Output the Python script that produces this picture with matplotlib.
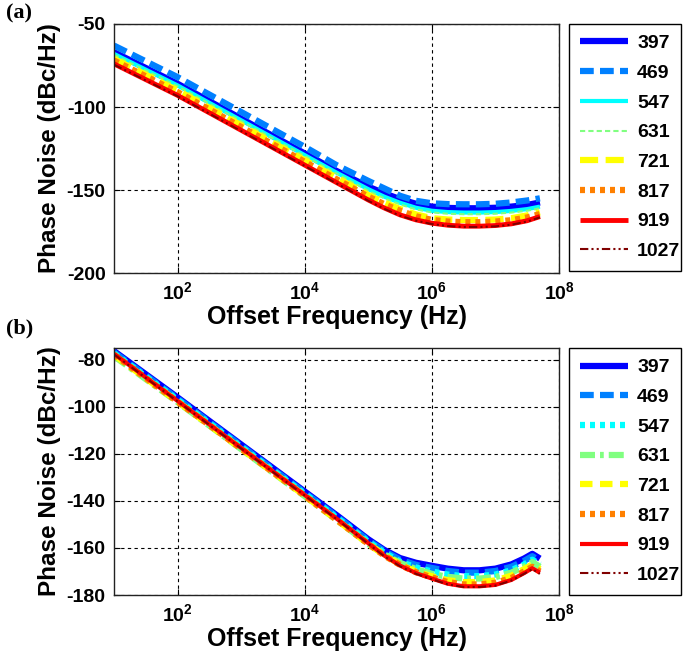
import numpy as np
import matplotlib
matplotlib.use("Agg")
import matplotlib.pyplot as plt

plt.rcParams['font.family'] = ['Liberation Sans', 'DejaVu Sans']
plt.rcParams['font.weight'] = 'bold'
plt.rcParams['mathtext.fontset'] = 'custom'
plt.rcParams['mathtext.rm'] = 'Liberation Sans:bold'
plt.rcParams['mathtext.bf'] = 'Liberation Sans:bold'
plt.rcParams['mathtext.it'] = 'Liberation Sans:bold'
plt.rcParams['axes.unicode_minus'] = False

# ---------------- data ----------------
labels = ['397', '469', '547', '631', '721', '817', '919', '1027']

# panel (a): log10 of offset frequency (Hz)
logf_a = [1, 2, 3, 4, 4.5, 5, 5.25, 5.5, 5.75, 6, 6.25, 6.5, 6.75, 7, 7.25, 7.5, 7.7]
pn_a_397 = [-67, -86, -107, -128, -138.5, -148, -152, -155.5, -158.3, -160, -160.8, -161, -161, -160.7, -160, -159, -157.5]
pn_a_469 = [-63, -82, -103, -124, -135, -144.5, -149, -153.5, -156.5, -158, -158.5, -158.6, -158.6, -158.3, -157.5, -156.3, -155]
pn_a_547 = [-68, -87, -108, -129, -139.5, -149.5, -154, -157.7, -160.7, -162.5, -163.3, -163.6, -163.6, -163.3, -162.6, -161.5, -160]
pn_a_631 = [-68.5, -87.5, -108.5, -129.5, -140, -150.5, -155, -158.7, -161.7, -163.5, -164.3, -164.6, -164.6, -164.3, -163.6, -162.5, -161]
pn_a_721 = [-71, -90, -111, -132, -142.5, -153, -157.5, -161.5, -164.7, -167, -167.8, -168.1, -168.1, -167.8, -167, -165.3, -163.5]
pn_a_817 = [-72, -91, -112, -133, -143.5, -154, -158.5, -162.5, -165.8, -168, -169, -169.4, -169.4, -169, -168.2, -166.5, -164.5]
pn_a_919 = [-74, -93, -114, -135, -145.5, -156, -160.8, -165, -168, -170, -171.2, -171.8, -171.8, -171.4, -170.4, -168.5, -166]
pn_a_1027 = [-74.5, -93.5, -114.5, -135.5, -146, -156.5, -161.3, -165.5, -168.5, -170.5, -171.7, -172.3, -172.3, -171.9, -170.9, -169, -166.5]

# panel (b)
logf_b = [1, 2, 3, 4, 4.5, 5, 5.25, 5.5, 5.75, 6, 6.25, 6.5, 6.75, 7, 7.25, 7.45, 7.58, 7.7]
pn_b_397 = [-76.3, -96, -116, -136, -146, -156.3, -160.8, -164.3, -166.3, -167.6, -168.8, -169.5, -169.5, -168.8, -167, -164.5, -162.5, -164.5]
pn_b_469 = [-76.8, -96.5, -116.5, -136.5, -146.5, -156.8, -161.3, -165, -167.2, -168.5, -169.8, -170.5, -170.5, -169.8, -168, -165.5, -163.5, -165.5]
pn_b_547 = [-77.3, -97, -117, -137, -147, -157.3, -162, -165.8, -168.3, -170, -171.3, -172, -172, -171.3, -169.5, -167, -165, -167]
pn_b_631 = [-78.5, -98, -118, -138, -148, -158.3, -162.7, -166.3, -169, -171, -172.3, -173, -173, -172.4, -170.5, -168, -166, -168]
pn_b_721 = [-78, -97.8, -117.8, -137.8, -148, -158.3, -163, -167, -170, -172, -173.7, -174.5, -174.5, -173.8, -171.8, -169, -167, -169]
pn_b_817 = [-77.8, -97.8, -117.8, -137.8, -148, -158.3, -163.2, -167.2, -170.3, -172.5, -174.5, -175.5, -175.5, -174.8, -172.8, -170, -168, -170]
pn_b_919 = [-77.5, -97.5, -117.5, -137.5, -147.5, -158, -163.2, -167.5, -170.7, -173, -175.2, -176.3, -176.3, -175.7, -173.6, -170.7, -168.6, -170.5]
pn_b_1027 = [-77.7, -97.7, -117.7, -137.7, -147.7, -158.2, -163.5, -167.8, -171, -173.3, -175.5, -176.6, -176.6, -176, -173.9, -171, -169, -171]

xticks = [1e2, 1e4, 1e6, 1e8]
xticklabels = ['$10^{2}$', '$10^{4}$', '$10^{6}$', '$10^{8}$']
yticks_a = [-200, -150, -100, -50]
yticks_b = [-180, -160, -140, -120, -100, -80]

# ---------------- styles ----------------
colors = ['#0000ff', '#0080ff', '#00ffff', '#80ff80', '#ffff00', '#ff8000', '#ff0000', '#800000']

styles_a = [
    dict(lw=4.5, ls='-'),
    dict(lw=4.5, ls=(0, (2.2, 1.0))),
    dict(lw=3.0, ls='-'),
    dict(lw=1.5, ls=(0, (2.5, 1.5))),
    dict(lw=4.5, ls=(0, (2.9, 1.2))),
    dict(lw=4.5, ls=(0, (0.8, 0.8))),
    dict(lw=3.5, ls='-'),
    dict(lw=1.5, ls=(0, (4, 1.5, 1, 1.5, 1, 1.5))),
]
styles_b = [
    dict(lw=4.5, ls='-'),
    dict(lw=4.5, ls=(0, (2.2, 1.0))),
    dict(lw=4.5, ls=(0, (0.8, 0.8))),
    dict(lw=4.5, ls=(0, (2.4, 0.8, 0.6, 0.8))),
    dict(lw=4.5, ls=(0, (2.0, 1.2))),
    dict(lw=4.5, ls=(0, (0.8, 0.8))),
    dict(lw=3.0, ls='-'),
    dict(lw=1.5, ls=(0, (4, 1.5, 1, 1.5, 1, 1.5))),
]

W, H = 683, 654
fig = plt.figure(figsize=(W / 100, H / 100), dpi=100)

def fx(px):
    return px / W

def fy(py):
    return 1 - py / H

def make_panel(top, bottom, logf, series, styles, ylim, yticks, tag, tag_y):
    ax = fig.add_axes([fx(114), fy(bottom), fx(559) - fx(114), fy(top) - fy(bottom)])
    f = 10.0 ** np.array(logf)
    handles = []
    for lab, vals, col, st in zip(labels, series, colors, styles):
        h, = ax.plot(f, vals, color=col, lw=st['lw'], ls=st['ls'], label=lab,
                     solid_capstyle='butt', dash_capstyle='butt')
        handles.append(h)
    ax.set_xscale('log')
    ax.set_xlim(1e1, 1e8)
    ax.set_ylim(*ylim)
    ax.set_xticks(xticks)
    ax.set_xticklabels(xticklabels)
    ax.xaxis.set_minor_locator(matplotlib.ticker.NullLocator())
    ax.set_yticks(yticks)
    ax.tick_params(axis='both', which='major', labelsize=14, direction='in',
                   top=True, right=True, length=4, width=0.8, pad=6)
    ax.grid(True, which='major', color='k', ls=(0, (3, 3)), lw=0.8)
    for s in ax.spines.values():
        s.set_linewidth(1.0)
        s.set_color('#222222')
    ax.set_xlabel('Offset Frequency (Hz)', fontsize=18, fontweight='bold', labelpad=1)
    ax.set_ylabel('Phase Noise (dBc/Hz)', fontsize=17.5, fontweight='bold', labelpad=4)
    leg = fig.legend(handles=handles, loc='upper left',
                     bbox_to_anchor=(fx(569), fy(bottom), fx(681) - fx(569), fy(top) - fy(bottom)),
                     mode='expand', borderaxespad=0, fancybox=False, framealpha=1,
                     edgecolor='k', prop=dict(size=14, weight='bold'),
                     handlelength=2.5, handletextpad=0.45, labelspacing=0.62,
                     borderpad=0.55)
    leg.get_frame().set_linewidth(1.0)
    fig.text(fx(6), fy(tag_y), tag, fontsize=16, fontweight='bold',
             family=['Liberation Serif', 'DejaVu Serif'], va='top', ha='left')
    return ax

make_panel(24, 273, logf_a,
           [pn_a_397, pn_a_469, pn_a_547, pn_a_631, pn_a_721, pn_a_817, pn_a_919, pn_a_1027],
           styles_a, (-200, -50), yticks_a, '(a)', 3)
make_panel(348, 595, logf_b,
           [pn_b_397, pn_b_469, pn_b_547, pn_b_631, pn_b_721, pn_b_817, pn_b_919, pn_b_1027],
           styles_b, (-180, -75), yticks_b, '(b)', 318)

fig.savefig('out.png', dpi=100)
